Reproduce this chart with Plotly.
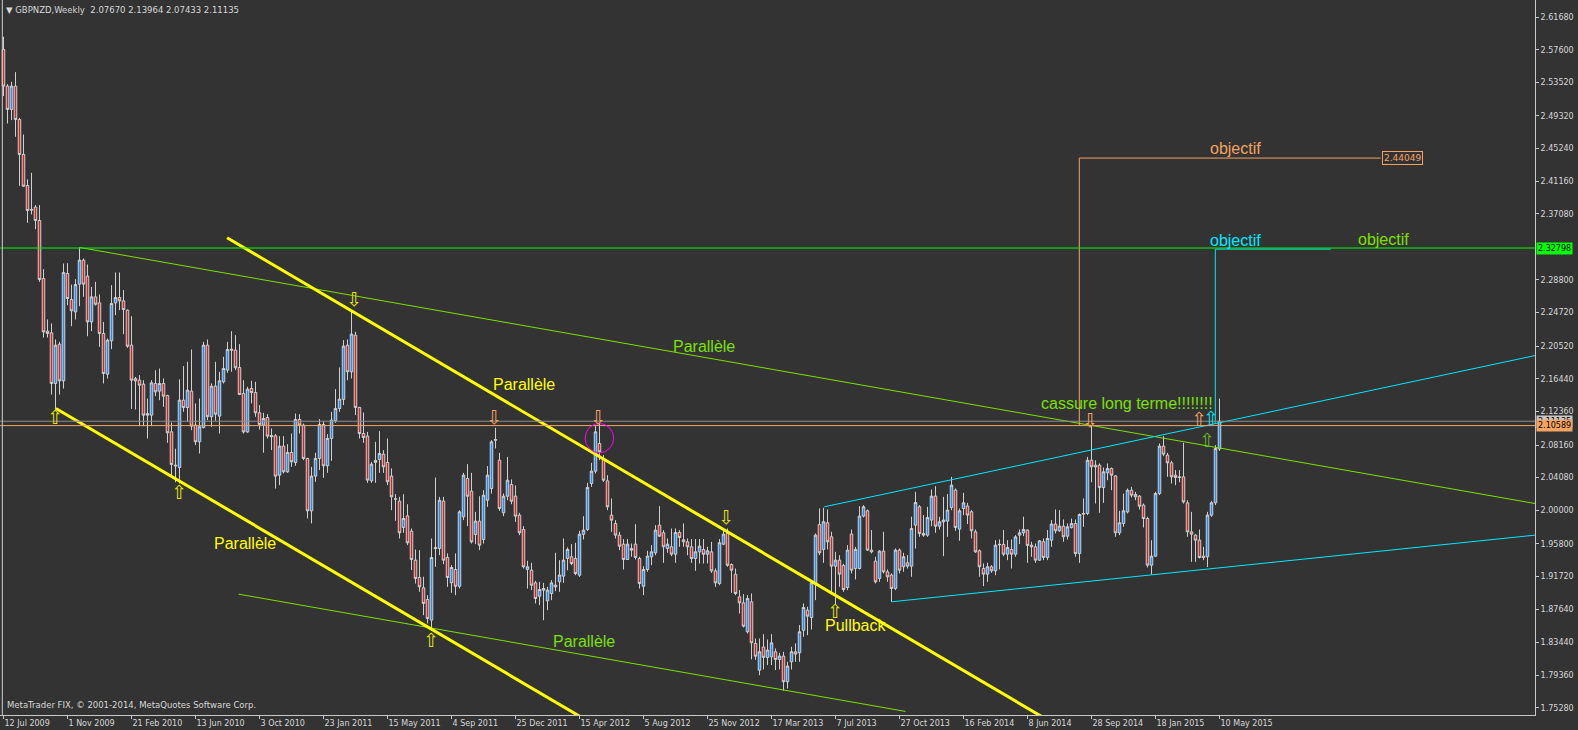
import plotly.graph_objects as go

# ---------------- data (weekly GBPNZD candles, bar 0 = week of 12 Jul 2009) ----------------
opens = [
    2.5764, 2.5305, 2.5013, 2.5305, 2.4887, 2.4450, 2.4062, 2.3763, 2.3791, 2.3624,
    2.2898, 2.2240, 2.2219, 2.1585, 2.2077, 2.1618, 2.2961, 2.2636, 2.2481, 2.2828,
    2.3128, 2.2928, 2.2356, 2.2669, 2.2594, 2.2211, 2.1702, 2.2119, 2.2594, 2.2661,
    2.2619, 2.2503, 2.2065, 2.1647, 2.1627, 2.1577, 2.1210, 2.1189, 2.1586, 2.1490,
    2.1586, 2.1436, 2.0981, 2.0565, 2.0535, 2.1377, 2.1285, 2.1490, 2.1065, 2.0856,
    2.1035, 2.2065, 2.1170, 2.1552, 2.1177, 2.1607, 2.1753, 2.2015, 2.2003, 2.1786,
    2.1461, 2.0980, 2.1523, 2.1473, 2.1219, 2.1065, 2.1160, 2.0935, 2.0931, 2.0439,
    2.0802, 2.0481, 2.0723, 2.0598, 2.1135, 2.1065, 2.0648, 1.9993, 2.0427, 2.0648,
    2.1073, 2.0556, 2.0898, 2.1119, 2.1273, 2.1386, 2.2065, 2.1732, 2.2190, 2.1286,
    2.0960, 2.0927, 2.0368, 2.0598, 2.0635, 2.0702, 2.0598, 2.0427, 2.0143, 2.0114,
    1.9785, 1.9930, 1.9739, 1.9376, 1.9160, 1.9030, 1.8884, 1.8626, 1.9534, 1.9522,
    2.0114, 1.9409, 1.9093, 1.9259, 1.9050, 1.9918, 2.0397, 2.0239, 1.9697, 1.9864,
    1.9634, 2.0126, 2.0272, 2.0885, 2.0627, 1.9968, 2.0176, 2.0322, 2.0176, 1.9939,
    1.9759, 1.9260, 1.9251, 1.9092, 1.8925, 1.9000, 1.8867, 1.8959, 1.9042, 1.9105,
    1.9176, 1.9397, 1.9418, 1.9397, 1.9188, 1.9700, 1.9759, 2.0335, 2.0489, 2.0835,
    2.0635, 2.0368, 1.9939, 1.9834, 1.9689, 1.9576, 1.9384, 1.9521, 1.9576, 1.9397,
    1.9050, 1.9259, 1.9418, 1.9468, 1.9814, 1.9718, 1.9522, 1.9543, 1.9451, 1.9722,
    1.9630, 1.9605, 1.9543, 1.9397, 1.9480, 1.9509, 1.9450, 1.9480, 1.9242, 1.9084,
    1.9576, 1.9710, 1.9321, 1.9200, 1.8917, 1.8842, 1.8480, 1.8855, 1.8334, 1.8000,
    1.8290, 1.8159, 1.8167, 1.8230, 1.8134, 1.8176, 1.7855, 1.8105, 1.8230, 1.8217,
    1.8500, 1.8750, 1.8659, 1.9085, 1.9822, 1.9510, 1.9843, 1.9668, 1.9301, 1.9376,
    1.9310, 1.9034, 1.9702, 1.9272, 1.9272, 1.9927, 1.9993, 1.9502, 1.9364, 1.9147,
    1.9489, 1.9230, 1.9190, 1.9022, 1.9502, 1.9293, 1.9343, 1.9301, 1.9814, 2.0043,
    1.9710, 1.9689, 1.9877, 2.0177, 1.9801, 1.9856, 1.9864, 2.0035, 2.0252, 1.9764,
    2.0022, 2.0052, 1.9981, 1.9730, 1.9493, 1.9272, 1.9201, 1.9293, 1.9243, 1.9568,
    1.9573, 1.9451, 1.9510, 1.9451, 1.9689, 1.9718, 1.9752, 1.9564, 1.9543, 1.9376,
    1.9606, 1.9410, 1.9626, 1.9827, 1.9743, 1.9801, 1.9676, 1.9784, 1.9835, 1.9459,
    1.9951, 1.9960, 2.0626, 2.0564, 2.0564, 2.0284, 2.0468, 2.0522, 2.0430, 1.9718,
    1.9835, 1.9980, 2.0251, 2.0197, 2.0176, 2.0064, 1.9897, 1.9313, 1.9426, 2.0209,
    2.0802, 2.0689, 2.0593, 2.0439, 2.0418, 2.0418, 2.0093, 1.9730, 1.9689, 1.9626,
    1.9426, 1.9418, 1.9939, 2.0093, 2.07670,
]
highs = [
    2.5922, 2.5330, 2.5359, 2.5480, 2.4908, 2.4700, 2.4137, 2.4220, 2.3816, 2.3816,
    2.3015, 2.2386, 2.2336, 2.2136, 2.2106, 2.3086, 2.3090, 2.2823, 2.2890, 2.3286,
    2.3149, 2.3074, 2.2794, 2.2857, 2.2698, 2.2356, 2.2148, 2.2815, 2.2974, 2.2974,
    2.2753, 2.2511, 2.2427, 2.1668, 2.1690, 2.1627, 2.1397, 2.1627, 2.1752, 2.1773,
    2.1648, 2.1444, 2.1098, 2.0770, 2.1636, 2.1803, 2.1857, 2.2011, 2.1335, 2.1398,
    2.2107, 2.2136, 2.1586, 2.1857, 2.1732, 2.1919, 2.2107, 2.2240, 2.2190, 2.2078,
    2.1627, 2.1544, 2.1619, 2.1607, 2.1315, 2.1219, 2.1202, 2.1023, 2.0952, 2.0927,
    2.0927, 2.0827, 2.0960, 2.1210, 2.1202, 2.1085, 2.0656, 2.0543, 2.0719, 2.1140,
    2.1115, 2.0952, 2.1231, 2.1515, 2.1786, 2.2128, 2.2136, 2.2503, 2.2232, 2.1294,
    2.1223, 2.0980, 2.0606, 2.0856, 2.0990, 2.0752, 2.0898, 2.0523, 2.0201, 2.0168,
    2.0201, 2.0076, 1.9772, 1.9509, 1.9501, 1.9168, 1.8938, 1.9647, 2.0410, 2.0168,
    2.0168, 1.9460, 1.9314, 1.9460, 2.0001, 2.0468, 2.0577, 2.0468, 1.9980, 2.0176,
    2.0251, 2.0552, 2.0877, 2.1031, 2.0718, 2.0210, 2.0668, 2.0385, 2.0310, 1.9968,
    1.9801, 1.9368, 1.9343, 1.9117, 1.9105, 1.9092, 1.9042, 1.9126, 1.9468, 1.9376,
    1.9647, 1.9535, 1.9576, 1.9593, 1.9743, 1.9926, 2.0343, 2.0593, 2.1052, 2.1093,
    2.0689, 2.0439, 2.0147, 1.9876, 1.9730, 1.9640, 1.9640, 1.9584, 1.9826, 1.9418,
    1.9300, 1.9493, 1.9564, 1.9814, 2.0051, 1.9751, 1.9647, 1.9772, 1.9772, 1.9751,
    1.9835, 1.9647, 1.9640, 1.9640, 1.9640, 1.9640, 1.9543, 1.9605, 1.9272, 1.9640,
    1.9751, 1.9772, 1.9334, 1.9272, 1.9001, 1.8951, 1.8938, 1.8959, 1.8396, 1.8396,
    1.8450, 1.8384, 1.8450, 1.8272, 1.8217, 1.8230, 1.8105, 1.8293, 1.8334, 1.8564,
    1.8834, 1.8793, 1.9126, 1.9710, 2.0023, 2.0031, 2.0010, 1.9731, 1.9480, 1.9439,
    1.9330, 1.9564, 1.9760, 1.9543, 2.0052, 2.0064, 2.0010, 1.9752, 1.9418, 1.9502,
    1.9731, 1.9260, 1.9210, 1.9522, 1.9522, 1.9468, 1.9439, 1.9919, 2.0231, 2.0064,
    1.9939, 2.0043, 2.0260, 2.0302, 1.9918, 2.0168, 2.0202, 2.0418, 2.0273, 2.0022,
    2.0218, 2.0093, 2.0002, 1.9760, 1.9510, 1.9335, 1.9343, 1.9314, 1.9626, 1.9635,
    1.9752, 1.9626, 1.9635, 1.9689, 1.9760, 1.9919, 1.9760, 1.9606, 1.9585, 1.9626,
    1.9647, 1.9752, 1.9877, 2.0010, 2.0002, 1.9885, 1.9835, 1.9897, 1.9885, 1.9960,
    2.0147, 2.0668, 2.1052, 2.0626, 2.0585, 2.0535, 2.0585, 2.0535, 2.0439, 1.9993,
    2.0209, 2.0272, 2.0293, 2.0230, 2.0189, 2.0084, 1.9918, 1.9626, 2.0230, 2.0835,
    2.0927, 2.0718, 2.0618, 2.0502, 2.0502, 2.0843, 2.0126, 1.9980, 1.9701, 1.9759,
    1.9543, 1.9980, 2.0118, 2.0814, 2.13964,
]
lows = [
    2.5180, 2.4837, 2.4880, 2.4671, 2.4058, 2.4045, 2.3595, 2.3700, 2.3515, 2.2857,
    2.2160, 2.2160, 2.1447, 2.1260, 2.1447, 2.1522, 2.2565, 2.2302, 2.2386, 2.2552,
    2.2670, 2.2177, 2.2240, 2.2560, 2.2044, 2.1585, 2.1647, 2.2015, 2.2440, 2.2503,
    2.2202, 2.2031, 2.1268, 2.1260, 2.1052, 2.1052, 2.0897, 2.1052, 2.1427, 2.1377,
    2.1294, 2.0844, 2.0439, 2.0350, 2.0335, 2.1231, 2.1106, 2.1002, 2.0814, 2.0710,
    2.1023, 2.1127, 2.1044, 2.1119, 2.0960, 2.1586, 2.1719, 2.1732, 2.1753, 2.1440,
    2.0960, 2.0969, 2.1335, 2.1169, 2.1010, 2.0719, 2.0898, 2.0752, 2.0272, 2.0314,
    2.0460, 2.0468, 2.0543, 2.0556, 2.0960, 2.0627, 1.9897, 1.9835, 2.0356, 2.0502,
    2.0406, 2.0468, 2.0618, 2.1094, 2.1231, 2.1315, 2.1627, 2.1648, 2.1190, 2.0898,
    2.0844, 2.0343, 2.0343, 2.0343, 2.0468, 2.0468, 2.0314, 2.0001, 1.9868, 1.9647,
    1.9718, 1.9564, 1.9251, 1.9084, 1.8980, 1.8688, 1.8584, 1.8501, 1.9293, 1.9439,
    1.9326, 1.9042, 1.8967, 1.8938, 1.9022, 1.9877, 1.9801, 1.9584, 1.9576, 1.9501,
    1.9584, 2.0043, 2.0209, 2.0773, 1.9993, 1.9926, 2.0126, 2.0076, 1.9855, 1.9689,
    1.9272, 1.9021, 1.9001, 1.8834, 1.8813, 1.8625, 1.8750, 1.8876, 1.8988, 1.8980,
    1.9092, 1.9250, 1.9313, 1.9188, 1.9167, 1.9634, 1.9743, 2.0293, 2.0460, 2.0627,
    2.0355, 2.0001, 1.9730, 1.9647, 1.9501, 1.9259, 1.9384, 1.9418, 1.9384, 1.9022,
    1.8938, 1.9230, 1.9313, 1.9438, 1.9668, 1.9343, 1.9468, 1.9426, 1.9343, 1.9543,
    1.9543, 1.9438, 1.9343, 1.9243, 1.9334, 1.9334, 1.9334, 1.9217, 1.9042, 1.9063,
    1.9564, 1.9293, 1.8967, 1.8938, 1.8709, 1.8534, 1.8459, 1.8134, 1.8130, 1.7938,
    1.8009, 1.8063, 1.8063, 1.8001, 1.8009, 1.7742, 1.7771, 1.8009, 1.8105, 1.8105,
    1.8418, 1.8438, 1.8509, 1.8876, 1.9439, 1.9343, 1.9510, 1.8959, 1.8826, 1.9043,
    1.8980, 1.9001, 1.9210, 1.9135, 1.9260, 1.9910, 1.9493, 1.9460, 1.9085, 1.9105,
    1.9210, 1.9105, 1.8855, 1.9001, 1.9210, 1.9231, 1.9272, 1.9168, 1.9522, 1.9668,
    1.9668, 1.9668, 1.9801, 1.9718, 1.9760, 1.9426, 1.9668, 2.0001, 1.9743, 1.9618,
    1.9939, 1.9827, 1.9647, 1.9468, 1.9168, 1.9051, 1.9105, 1.9218, 1.9188, 1.9260,
    1.9426, 1.9376, 1.9272, 1.9418, 1.9577, 1.9676, 1.9343, 1.9418, 1.9343, 1.9368,
    1.9376, 1.9376, 1.9543, 1.9710, 1.9731, 1.9606, 1.9634, 1.9772, 1.9418, 1.9342,
    1.9793, 1.9939, 2.0350, 2.0084, 1.9968, 2.0093, 2.0376, 2.0251, 1.9668, 1.9689,
    1.9793, 1.9960, 2.0160, 2.0126, 2.0010, 1.9784, 1.9284, 1.9201, 1.9418, 2.0189,
    2.0677, 2.0418, 2.0335, 2.0314, 2.0350, 2.0084, 1.9668, 1.9355, 1.9355, 1.9397,
    1.9376, 1.9290, 1.9918, 2.0064, 2.07433,
]
closes = [
    2.5305, 2.5013, 2.5305, 2.4887, 2.4450, 2.4053, 2.3749, 2.3755, 2.3624, 2.2886,
    2.2231, 2.2211, 2.1585, 2.2065, 2.1618, 2.2973, 2.2648, 2.2494, 2.2823, 2.3128,
    2.2828, 2.2356, 2.2669, 2.2577, 2.2211, 2.1710, 2.2127, 2.2586, 2.2661, 2.2619,
    2.2510, 2.2052, 2.1627, 2.1618, 2.1564, 2.1189, 2.1189, 2.1594, 2.1481, 2.1586,
    2.1427, 2.0969, 2.0573, 2.0556, 2.1377, 2.1285, 2.1502, 2.1052, 2.0856, 2.1044,
    2.2065, 2.1170, 2.1552, 2.1202, 2.1619, 2.1773, 2.2011, 2.2003, 2.1782, 2.1448,
    2.0980, 2.1515, 2.1473, 2.1219, 2.1073, 2.1148, 2.0927, 2.0919, 2.0427, 2.0802,
    2.0481, 2.0723, 2.0606, 2.1135, 2.1065, 2.0648, 1.9993, 2.0427, 2.0648, 2.1073,
    2.0556, 2.0898, 2.1127, 2.1273, 2.1390, 2.2053, 2.1732, 2.2203, 2.1286, 2.0960,
    2.0910, 2.0377, 2.0577, 2.0623, 2.0710, 2.0543, 2.0356, 2.0168, 2.0139, 1.9718,
    1.9897, 1.9593, 1.9384, 1.9147, 1.9042, 1.8834, 1.8647, 1.9409, 1.9522, 2.0126,
    1.9376, 1.9159, 1.9284, 1.9050, 1.9980, 2.0439, 2.0176, 1.9605, 1.9864, 1.9563,
    2.0189, 2.0439, 2.0856, 2.0877, 2.0022, 2.0176, 2.0376, 2.0113, 1.9926, 1.9718,
    1.9293, 1.9293, 1.9063, 1.8896, 1.9009, 1.9021, 1.9001, 1.9092, 1.9063, 1.9190,
    1.9376, 1.9510, 1.9334, 1.9209, 1.9700, 1.9751, 2.0285, 2.0489, 2.0981, 2.0731,
    2.0376, 2.0043, 1.9876, 1.9689, 1.9551, 1.9384, 1.9576, 1.9501, 1.9410, 1.9084,
    1.9259, 1.9426, 1.9480, 1.9751, 1.9676, 1.9543, 1.9576, 1.9451, 1.9722, 1.9660,
    1.9605, 1.9543, 1.9397, 1.9480, 1.9551, 1.9450, 1.9493, 1.9242, 1.9092, 1.9593,
    1.9701, 1.9313, 1.9250, 1.8959, 1.8842, 1.8550, 1.8896, 1.8342, 1.8175, 1.8230,
    1.8160, 1.8251, 1.8342, 1.8134, 1.8176, 1.7855, 1.8051, 1.8230, 1.8201, 1.8480,
    1.8784, 1.8676, 1.9093, 1.9689, 1.9468, 1.9856, 1.9606, 1.9301, 1.9376, 1.9201,
    1.9009, 1.9501, 1.9251, 1.9510, 1.9927, 2.0043, 1.9502, 1.9480, 1.9105, 1.9489,
    1.9230, 1.9168, 1.9022, 1.9502, 1.9251, 1.9418, 1.9301, 1.9772, 2.0097, 1.9710,
    1.9689, 1.9910, 2.0177, 1.9801, 1.9856, 1.9877, 2.0001, 2.0314, 1.9785, 1.9993,
    2.0093, 1.9939, 1.9743, 1.9480, 1.9293, 1.9201, 1.9293, 1.9243, 1.9564, 1.9573,
    1.9451, 1.9535, 1.9451, 1.9668, 1.9718, 1.9760, 1.9560, 1.9543, 1.9376, 1.9618,
    1.9410, 1.9647, 1.9827, 1.9743, 1.9801, 1.9668, 1.9793, 1.9835, 1.9459, 1.9947,
    1.9960, 2.0626, 2.0543, 2.0543, 2.0284, 2.0481, 2.0522, 2.0439, 1.9718, 1.9843,
    1.9993, 2.0251, 2.0189, 2.0168, 2.0051, 1.9897, 1.9313, 1.9426, 2.0209, 2.0802,
    2.0702, 2.0593, 2.0418, 2.0410, 2.0410, 2.0105, 1.9730, 1.9701, 1.9626, 1.9409,
    1.9409, 1.9939, 2.0093, 2.0772, 2.11135,
]

date_labels = ["12 Jul 2009", "1 Nov 2009", "21 Feb 2010", "13 Jun 2010", "3 Oct 2010",
               "23 Jan 2011", "15 May 2011", "4 Sep 2011", "25 Dec 2011", "15 Apr 2012",
               "5 Aug 2012", "25 Nov 2012", "17 Mar 2013", "7 Jul 2013", "27 Oct 2013",
               "16 Feb 2014", "8 Jun 2014", "28 Sep 2014", "18 Jan 2015", "10 May 2015"]
date_label_bars = [16 * k for k in range(len(date_labels))]

price_ticks = [2.61680, 2.57600, 2.53520, 2.49320, 2.45240, 2.41160, 2.37080, 2.28800,
               2.24720, 2.20520, 2.16440, 2.12360, 2.08160, 2.04080, 2.00000, 1.95800,
               1.91720, 1.87640, 1.83440, 1.79360, 1.75280]

# levels
level_green = 2.32798
level_bid = 2.11135
level_orange = 2.10589
target_orange = 2.44049

# trend lines: (bar, price) endpoints
green_trend_x, green_trend_y = [19, 382.9], [2.3287, 2.0084]
green_par_x, green_par_y = [58.75, 225.5], [1.8951, 1.7484]
yellow_up_x, yellow_up_y = [55.9, 270], [2.3408, 1.7113]
yellow_lo_x, yellow_lo_y = [13.1, 160], [2.1273, 1.6954]
cyan_up_x, cyan_up_y = [205.2, 382.9], [2.0043, 2.1935]
cyan_lo_x, cyan_lo_y = [222, 382.9], [1.8855, 1.9689]
cyan_obj_x, cyan_obj_y = [302.95, 302.95, 331.8], [2.1086, 2.3266, 2.3266]
orange_obj_x, orange_obj_y = [268.95, 268.95, 344.3], [2.10589, 2.44049, 2.44049]

YELLOW = "#FFFF00"
GREEN = "#7CE000"
CYAN = "#00E8FF"
ORANGE = "#F4A460"
LIME = "#00FF00"

label_texts = ["objectif", "objectif", "objectif", "Parallèle", "Parallèle", "Parallèle",
               "Parallèle", "Pullback", "cassure long terme!!!!!!!!"]
label_x = [308.05, 308.05, 344.95, 130.1, 60.25, 175.2, 145.05, 213.1, 280.9]
label_y = [2.4525, 2.3378, 2.3387, 2.1578, 1.9589, 2.2053, 1.8359, 1.8563, 2.1330]
label_colors = [ORANGE, CYAN, GREEN, YELLOW, YELLOW, GREEN, GREEN, YELLOW, GREEN]

arrow_glyphs = ["⇧", "⇧", "⇩", "⇩", "⇩", "⇧", "⇩", "⇧", "⇩", "⇧", "⇧", "⇧"]
arrow_x = [12.95, 43.95, 87.6, 122.6, 148.55, 106.9, 180.55, 207.9, 271.6, 298.9, 301.8, 300.95]
arrow_y = [2.1169, 2.0231, 2.2637, 2.1169, 2.1169, 1.8376, 1.9918, 1.8740, 2.1127, 2.1140, 2.1148, 2.0877]
arrow_colors = ["#E6E600", "#E6E600", "#E6E600", ORANGE, ORANGE, "#E6E600", "#E6E600", "#E6E600",
                ORANGE, ORANGE, CYAN, "#66BB22"]

# ---------------- figure ----------------
BG = "#333333"
FG = "#D8D8D8"
bars = list(range(len(opens)))

fig = go.Figure()
fig.add_trace(go.Candlestick(
    x=bars, open=opens, high=highs, low=lows, close=closes,
    increasing=dict(fillcolor="#1E90FF", line=dict(color="#D0D0D0", width=1)),
    decreasing=dict(fillcolor="#D02828", line=dict(color="#D0D0D0", width=1)),
    whiskerwidth=0, hoverinfo="skip", showlegend=False,
))


def add_line(xs, ys, color, width):
    fig.add_trace(go.Scatter(x=xs, y=ys, mode="lines", line=dict(color=color, width=width),
                             hoverinfo="skip", showlegend=False))


add_line(green_trend_x, green_trend_y, GREEN, 1)
add_line(green_par_x, green_par_y, GREEN, 1)
add_line(yellow_up_x, yellow_up_y, YELLOW, 3)
add_line(yellow_lo_x, yellow_lo_y, YELLOW, 3)
add_line(cyan_up_x, cyan_up_y, CYAN, 1)
add_line(cyan_lo_x, cyan_lo_y, CYAN, 1)
add_line(cyan_obj_x, cyan_obj_y, CYAN, 1)
add_line(orange_obj_x, orange_obj_y, ORANGE, 1)

shapes = [
    dict(type="line", xref="paper", x0=0, x1=1, yref="y", y0=level_green, y1=level_green,
         line=dict(color=LIME, width=1)),
    dict(type="line", xref="paper", x0=0, x1=1, yref="y", y0=level_bid, y1=level_bid,
         line=dict(color="#8C8C8C", width=1)),
    dict(type="line", xref="paper", x0=0, x1=1, yref="y", y0=level_orange, y1=level_orange,
         line=dict(color=ORANGE, width=1)),
    dict(type="line", xref="x", x0=-0.3, x1=-0.3, yref="paper", y0=0, y1=1,
         line=dict(color="#CFCFCF", width=1)),
    dict(type="circle", xref="x", yref="y", x0=145.4, x1=152.55, y0=2.0718, y1=2.1086,
         line=dict(color="#FF00FF", width=1)),
]

annotations = []
for t, x, y, c in zip(label_texts, label_x, label_y, label_colors):
    annotations.append(dict(x=x, y=y, xref="x", yref="y", text=t, showarrow=False,
                            xanchor="center", yanchor="middle",
                            font=dict(family="Liberation Sans, Arial", size=16, color=c)))
for g, x, y, c in zip(arrow_glyphs, arrow_x, arrow_y, arrow_colors):
    annotations.append(dict(x=x, y=y, xref="x", yref="y", text=g, showarrow=False,
                            xanchor="center", yanchor="middle",
                            font=dict(family="DejaVu Sans", size=19, color=c)))

# target price box
annotations.append(dict(x=344.7, y=target_orange, xref="x", yref="y", text="2.44049",
                        showarrow=False, xanchor="left", yanchor="middle",
                        bordercolor=ORANGE, borderwidth=1, borderpad=1, bgcolor=BG,
                        font=dict(family="DejaVu Sans", size=9, color=ORANGE)))

# right-axis price boxes
for val, bg in [(level_bid, "#C8C8C8"), (level_orange, ORANGE), (level_green, LIME)]:
    annotations.append(dict(x=1, xref="paper", y=val, yref="y", text=f"{val:.5f}",
                            showarrow=False, xanchor="left", yanchor="middle", xshift=1,
                            bgcolor=bg, borderpad=1,
                            font=dict(family="DejaVu Sans", size=8, color="#000000")))

# header and copyright
annotations.append(dict(x=4 / 1535, y=1 - 10 / 715, xref="paper", yref="paper",
                        text="▼\u00a0GBPNZD,Weekly\u00a0\u00a02.07670\u00a02.13964\u00a02.07433\u00a02.11135",
                        showarrow=False, xanchor="left", yanchor="middle",
                        font=dict(family="DejaVu Sans", size=8.5, color=FG)))
annotations.append(dict(x=5 / 1535, y=1 - 705 / 715, xref="paper", yref="paper",
                        text="MetaTrader FIX, © 2001-2014, MetaQuotes Software Corp.",
                        showarrow=False, xanchor="left", yanchor="middle",
                        font=dict(family="DejaVu Sans", size=8.5, color=FG)))

fig.update_layout(
    width=1578, height=730,
    margin=dict(l=0, r=43, t=0, b=15, autoexpand=False),
    paper_bgcolor=BG, plot_bgcolor=BG,
    showlegend=False, hovermode=False,
    boxgap=0.1,
    shapes=shapes, annotations=annotations,
    xaxis=dict(range=[-0.875, 382.875], rangeslider=dict(visible=False),
               tickmode="array", tickvals=date_label_bars, ticktext=date_labels,
               ticks="outside", ticklen=3, tickcolor="#C8C8C8",
               ticklabelposition="outside right",
               tickfont=dict(family="DejaVu Sans", size=8, color=FG),
               showline=True, linecolor="#C8C8C8", linewidth=1,
               showgrid=False, zeroline=False, automargin=False, fixedrange=True),
    yaxis=dict(range=[1.74393, 2.63819], side="right",
               tickmode="array", tickvals=price_ticks,
               ticktext=[f"{p:.5f}" for p in price_ticks],
               ticks="outside", ticklen=3, tickcolor="#C8C8C8",
               tickfont=dict(family="DejaVu Sans", size=8, color=FG),
               showline=True, linecolor="#C8C8C8", linewidth=1,
               showgrid=False, zeroline=False, automargin=False, fixedrange=True),
)

fig.write_html(
    "out.html",
    config={"displayModeBar": False, "staticPlot": True},
    post_script="document.body.style.margin='0';document.body.style.overflow='hidden';"
                "document.body.style.background='#333333';",
)
